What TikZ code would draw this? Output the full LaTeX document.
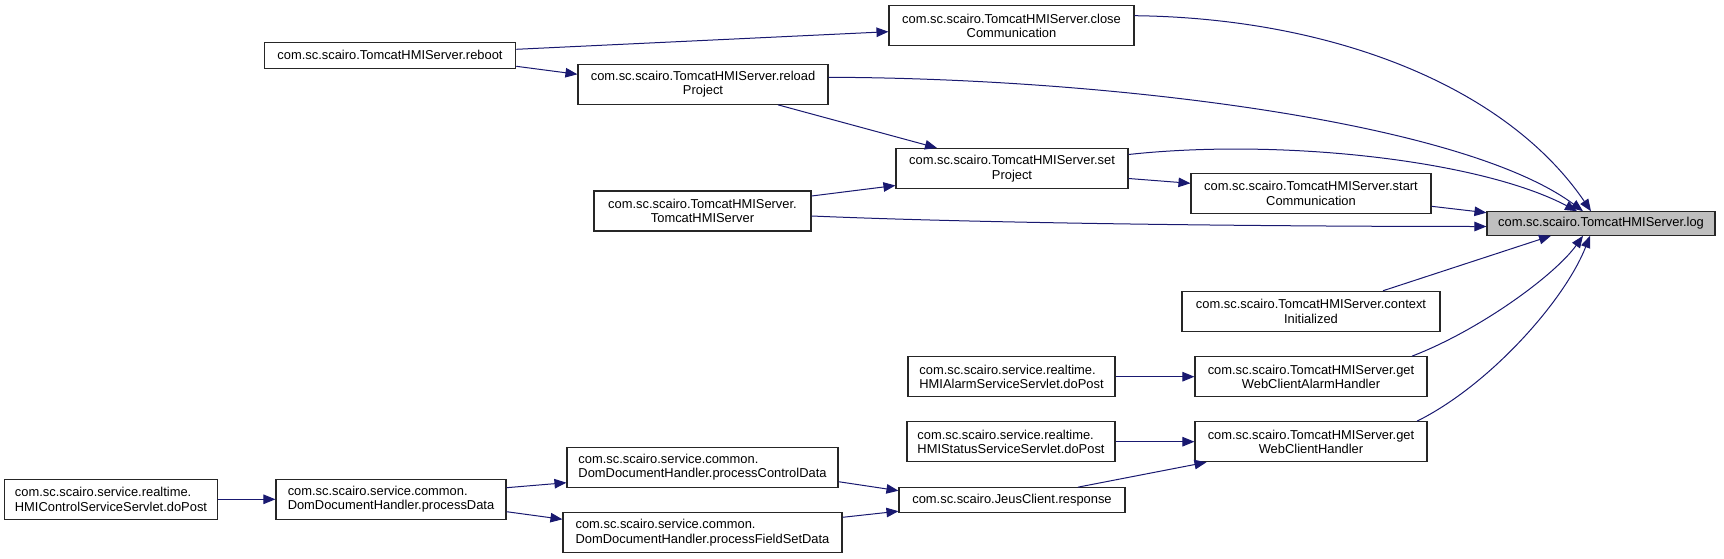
\documentclass[tikz,border=0pt]{standalone}
\usepackage{fontspec}
\setmainfont{Liberation Sans}
\usetikzlibrary{arrows.meta,calc}
\definecolor{edgecol}{RGB}{25,25,112}
\definecolor{logfill}{RGB}{191,191,191}
\newcommand\dgfont{\fontsize{12.9}{14.5}\selectfont}
\tikzset{
  box/.style={draw=black!85, line width=1.1pt, fill=white, inner sep=0pt, font=\dgfont, text=black, minimum height=40pt},
  lbox/.style={box, align=left},
  cbox/.style={box, align=center},
  edge/.style={draw=edgecol, line width=1pt, -{Triangle[length=12pt,width=9.5pt]}},
}
\begin{document}
\begin{tikzpicture}[x=1pt,y=-1pt]
\useasboundingbox (0,0) rectangle (1724,559);
% nodes
\node[cbox, minimum width=251.5pt, minimum height=26pt] (reboot) at (390,55.3) {com.sc.scairo.TomcatHMIServer.reboot};
\node[cbox, minimum width=245pt] (close) at (1011.5,25.7) {com.sc.scairo.TomcatHMIServer.close\\Communication};
\node[cbox, minimum width=250pt] (reload) at (703,84.3) {com.sc.scairo.TomcatHMIServer.reload\\Project};
\node[cbox, minimum width=232pt] (setp) at (1012,168.5) {com.sc.scairo.TomcatHMIServer.set\\Project};
\node[cbox, minimum width=217pt] (ctor) at (702.5,211) {com.sc.scairo.TomcatHMIServer.\\TomcatHMIServer};
\node[cbox, minimum width=240pt] (start) at (1311,193.3) {com.sc.scairo.TomcatHMIServer.start\\Communication};
\node[cbox, minimum width=228pt, minimum height=23.5pt, fill=logfill] (log) at (1601,223.5) {com.sc.scairo.TomcatHMIServer.log};
\node[cbox, minimum width=258pt] (ctx) at (1311,311.3) {com.sc.scairo.TomcatHMIServer.context\\Initialized};
\node[cbox, minimum width=232pt] (alarmh) at (1311,376.7) {com.sc.scairo.TomcatHMIServer.get\\WebClientAlarmHandler};
\node[cbox, minimum width=232pt] (webh) at (1311,441.7) {com.sc.scairo.TomcatHMIServer.get\\WebClientHandler};
\node[lbox, minimum width=207pt] (alarmpost) at (1011.5,376.7) {com.sc.scairo.service.realtime.\\HMIAlarmServiceServlet.doPost};
\node[lbox, minimum width=208pt] (statuspost) at (1011,441.7) {com.sc.scairo.service.realtime.\\HMIStatusServiceServlet.doPost};
\node[cbox, minimum width=226pt, minimum height=25pt] (jeus) at (1012,500.2) {com.sc.scairo.JeusClient.response};
\node[lbox, minimum width=271pt] (pctl) at (702.5,467.3) {com.sc.scairo.service.common.\\DomDocumentHandler.processControlData};
\node[lbox, minimum width=279pt] (pfs) at (702.5,532.7) {com.sc.scairo.service.common.\\DomDocumentHandler.processFieldSetData};
\node[lbox, minimum width=230pt] (pdata) at (391,499.3) {com.sc.scairo.service.common.\\DomDocumentHandler.processData};
\node[lbox, minimum width=213pt] (ctlpost) at (111,499.3) {com.sc.scairo.service.realtime.\\HMIControlServiceServlet.doPost};
% edges
\draw[edge] ([yshift=6pt]reboot.east) -- ([yshift=-6pt]close.west);
\draw[edge] ([yshift=-11pt]reboot.east) -- ([yshift=10pt]reload.west);
\draw[edge] ([xshift=75pt]reload.south) -- ([xshift=-75pt]setp.north);
\draw[edge] ([yshift=15pt]ctor.east) -- ([yshift=-17pt]setp.west);
\draw[edge] ([yshift=-10pt]setp.east) -- ([yshift=10pt]start.west);
\draw[edge] ([yshift=-13pt]start.east) -- ([yshift=-1.5pt]log.north west);
\draw[edge] ([yshift=-5pt]ctor.east) .. controls (1000,224) and (1300,226.5) .. ([yshift=-3pt]log.west);
\draw[edge] ([yshift=10pt]close.east) .. controls (1330,18) and (1505,85) .. ([xshift=-10pt]log.north);
\draw[edge] ([yshift=7pt]reload.east) .. controls (1100,78) and (1460,120) .. ([xshift=-18pt]log.north);
\draw[edge] ([yshift=14pt]setp.east) .. controls (1280,138) and (1480,160) .. ([xshift=-24pt]log.north);
\draw[edge] ([xshift=72pt]ctx.north) -- ([xshift=-50pt]log.south);
\draw[edge] ([xshift=101pt]alarmh.north) .. controls (1480,330) and (1555,275) .. ([xshift=-18pt]log.south);
\draw[edge] ([xshift=106pt]webh.north) .. controls (1490,385) and (1565,300) .. ([xshift=-11pt]log.south);
\draw[edge] (alarmpost.east) -- (alarmh.west);
\draw[edge] (statuspost.east) -- (webh.west);
\draw[edge] ([xshift=66pt]jeus.north) -- ([xshift=12pt]webh.south west);
\draw[edge] ([yshift=-14.4pt]pctl.east) -- ([yshift=9.5pt]jeus.west);
\draw[edge] ([yshift=15.4pt]pfs.east) -- ([yshift=-11pt]jeus.west);
\draw[edge] ([yshift=11.6pt]pdata.east) -- ([yshift=-15.4pt]pctl.west);
\draw[edge] ([yshift=-12.4pt]pdata.east) -- ([yshift=13.4pt]pfs.west);
\draw[edge] (ctlpost.east) -- (pdata.west);
\end{tikzpicture}
\end{document}
